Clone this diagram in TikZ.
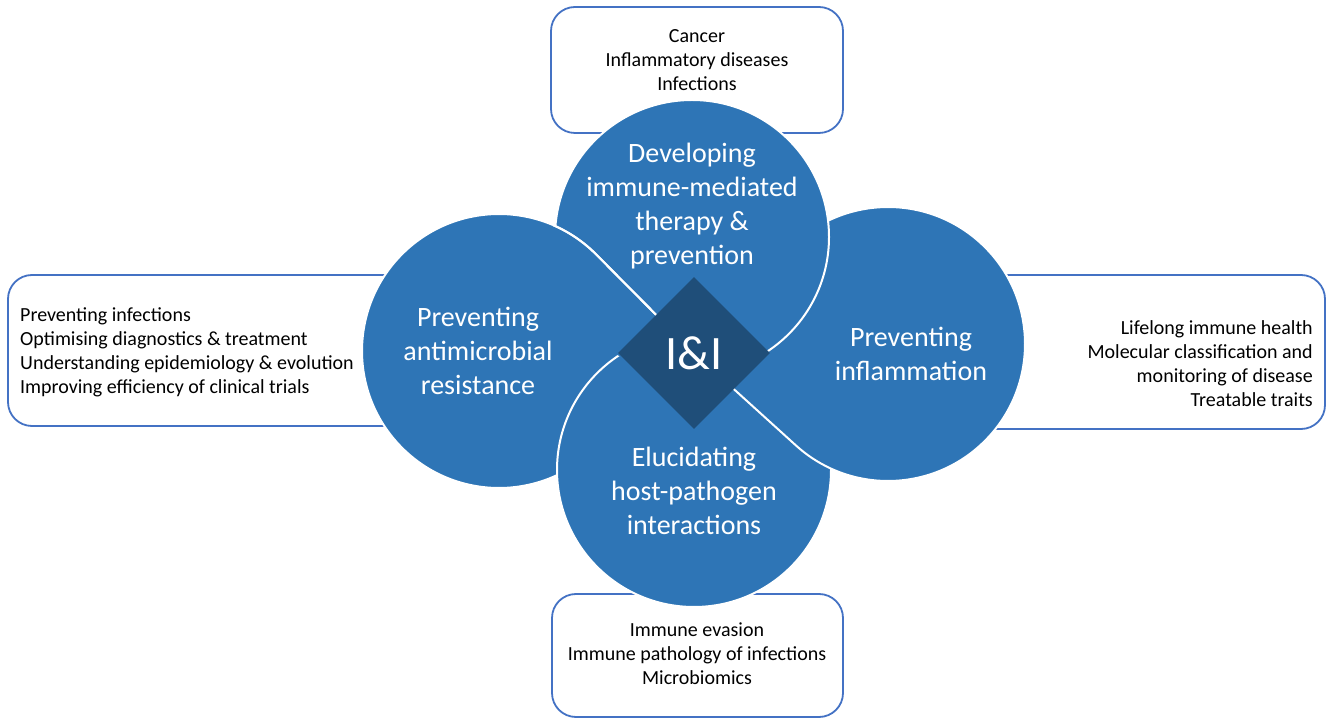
\documentclass[tikz,border=0pt]{standalone}
\usepackage{fontspec}
\setmainfont{Carlito}
\usepackage{tikz}
\usetikzlibrary{shapes.geometric}

\definecolor{petal}{HTML}{2E75B6}
\definecolor{core}{HTML}{1F4E79}
\definecolor{noteline}{HTML}{4472C4}

\begin{document}
\begin{tikzpicture}[x=1pt, y=1pt,
        petal/.style = {fill=petal, draw=white, line width=2pt},
        note/.style = {draw=noteline, line width=1.8pt, fill=white, rounded corners=24pt},
        big/.style = {text=white, align=center, font=\fontsize{28}{34}\selectfont},
        small/.style = {align=center, font=\fontsize{20}{24}\selectfont},
        centre/.style = {diamond, fill=core, text=white, minimum width=152pt, minimum height=152pt, inner sep=0pt, font=\fontsize{48}{56}\selectfont}]
    \useasboundingbox (0,0) rectangle (1326,718);

    \coordinate (P) at (694,365);
    \coordinate (cT) at (692,481);
    \coordinate (cL) at (499,367);
    \coordinate (cR) at (888,374);
    \coordinate (cB) at (694,248);

    % boxes behind the petals
    \draw[note] (551,711) rectangle (843,585);
    \draw[note] (8,443) rectangle (430,292);
    \draw[note] (950,443) rectangle (1325,289);
    \draw[note] (552,124) rectangle (843,1);

    % petals, left - bottom - right - top
    \path[petal] (P) -- ([shift={(44.77:137pt)}]cL) arc[start angle=44.77, end angle=314.05, radius=137pt] -- cycle;
    \path[petal] (cB) circle[radius=137pt];
    \path[petal] (P) -- ([shift={(227.8:137pt)}]cR) arc[start angle=227.8, end angle=497.6, radius=137pt] -- cycle;
    \path[petal] (cT) circle[radius=137pt];

    % left petal goes over the top one
    \begin{scope}
        \clip (cT) circle[radius=139.5pt];
        \fill[petal] (P) -- ([shift={(44.77:137pt)}]cL) arc[start angle=44.77, end angle=314.05, radius=137pt] -- cycle;
        \draw[white, line width=2pt] (P) -- ([shift={(44.77:137pt)}]cL) arc[start angle=44.77, end angle=100, radius=137pt];
    \end{scope}

    \node[centre] (ii) at (P) {I\&I};

    \node[big] (dev) at (692,512) {Developing\\immune-mediated\\therapy \&\\prevention};
    \node[big] (amr) at (478,367) {Preventing\\antimicrobial\\resistance};
    \node[big] (inf) at (911,364) {Preventing\\inflammation};
    \node[big] (hpi) at (694,227) {Elucidating\\host-pathogen\\interactions};

    \node[small] (devnote) at (697,658) {Cancer\\Inflammatory diseases\\Infections};
    \node[small, align=left, anchor=west, inner sep=0pt] (amrnote) at (20,366) {Preventing infections\\Optimising diagnostics \& treatment\\Understanding epidemiology \& evolution\\Improving efficiency of clinical trials};
    \node[small, align=right, anchor=east, inner sep=0pt] (infnote) at (1313,354) {Lifelong immune health\\Molecular classification and\\monitoring of disease\\Treatable traits};
    \node[small] (hpinote) at (697,64) {Immune evasion\\Immune pathology of infections\\Microbiomics};
\end{tikzpicture}
\end{document}
